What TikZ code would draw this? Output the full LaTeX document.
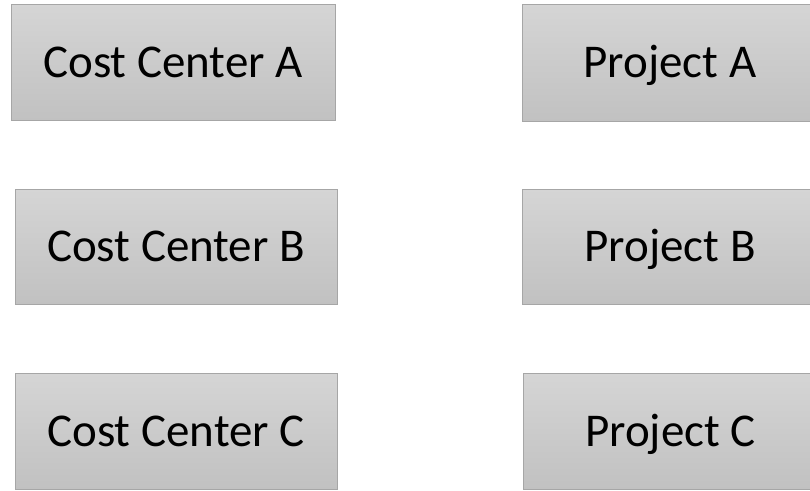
\documentclass[tikz,border=0pt]{standalone}
\usepackage{fontspec}
\setmainfont{Carlito}
\definecolor{boxtop}{HTML}{D5D5D5}
\definecolor{boxbot}{HTML}{C1C1C1}
\definecolor{boxline}{HTML}{A6A6A6}
\tikzset{
  cbox/.style={draw=boxline, line width=1pt, top color=boxtop, bottom color=boxbot,
    inner sep=0pt, outer sep=0pt, text height=30pt, text depth=0pt,
    font=\fontsize{47}{56}\selectfont, text=black}
}
\begin{document}
\begin{tikzpicture}[x=1pt,y=-1pt]
\useasboundingbox (0,0) rectangle (810,490);
\clip (0,0) rectangle (810,490);
\node[cbox, minimum width=324pt, minimum height=116pt] (cca) at (173,62) {Cost Center A};
\node[cbox, minimum width=322pt, minimum height=115pt] (ccb) at (176,246.5) {Cost Center B};
\node[cbox, minimum width=322pt, minimum height=116pt] (ccc) at (176,431) {Cost Center C};
\node[cbox, minimum width=296pt, minimum height=117pt] (pa) at (670,62.5) {Project A};
\node[cbox, minimum width=296pt, minimum height=115pt] (pb) at (670,246.5) {Project B};
\node[cbox, minimum width=295pt, minimum height=116pt] (pc) at (670.5,431) {Project C};
\end{tikzpicture}
\end{document}
